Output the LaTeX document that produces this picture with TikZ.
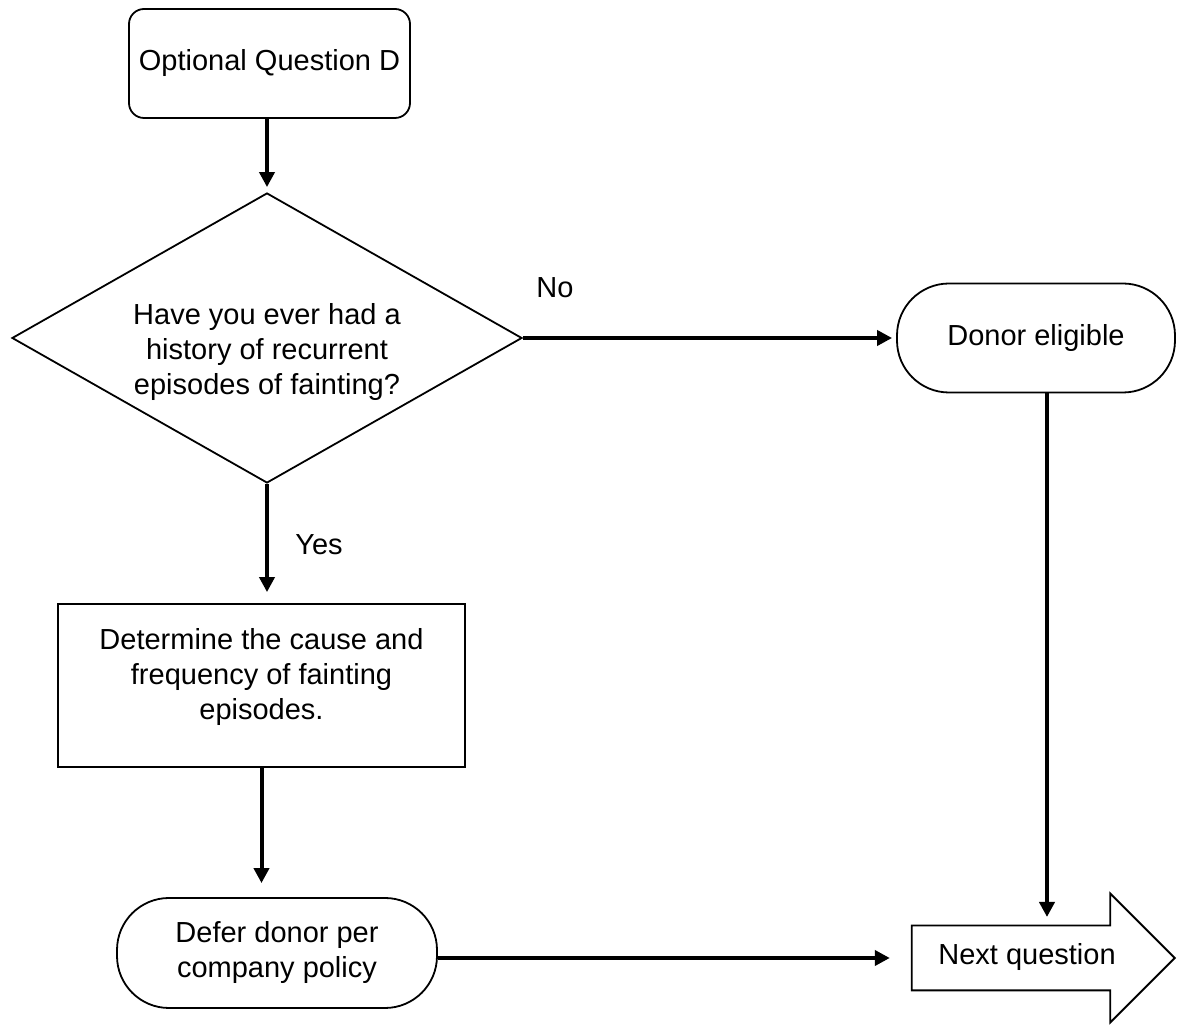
\documentclass[tikz,border=0pt]{standalone}
\usepackage{fontspec}
\setmainfont{Liberation Sans}
\usetikzlibrary{shapes.geometric, shapes.arrows, arrows.meta}
\newcommand{\flowfont}{\fontsize{14.5}{17.5}\selectfont}
\tikzset{
    rbox/.style={rectangle, rounded corners=7.5pt, draw=black, line width=0.9pt,
                 minimum width=140.5pt, minimum height=54.5pt, align=center,
                 font=\flowfont},
    qbox/.style={diamond, draw=black, line width=0.9pt, inner sep=0pt,
                 minimum width=255pt, minimum height=145pt},
    abox/.style={rectangle, draw=black, line width=0.9pt,
                 minimum width=203.5pt, minimum height=81.5pt},
    tbox/.style={rectangle, rounded corners=26pt, draw=black, line width=0.9pt,
                 minimum height=54.5pt, align=center, font=\flowfont},
    nbox/.style={single arrow, draw=black, line width=0.9pt,
                 single arrow head extend=16pt, single arrow tip angle=90,
                 single arrow head indent=0pt, minimum height=131.5pt,
                 text height=10.5pt, text depth=3.5pt, inner ysep=8.75pt,
                 font=\flowfont},
    txt/.style={align=center, font=\flowfont},
    arr/.style={-{Triangle[length=7.5pt, width=7.5pt]}, line width=2pt, draw=black}
}

\begin{document}
\begin{tikzpicture}[x=0.5pt, y=-0.5pt]
\useasboundingbox (0,0) rectangle (1185,1036);

\node[rbox]                       at (269.5,63.5)  (start) {Optional Question D};
\node[qbox]                       at (267,338)     (quest) {};
\node[txt]                        at (267,352)     (questtxt) {Have you ever had a\\history of recurrent\\episodes of fainting?};
\node[tbox, minimum width=139pt]  at (1036,338)    (donor) {Donor eligible};
\node[abox]                       at (261.5,685.5) (det)   {};
\node[txt]                        at (261.5,677.5) (dettxt) {Determine the cause and\\frequency of fainting\\episodes.};
\node[tbox, minimum width=160pt, minimum height=55pt]
                                  at (277,953)     (defer) {Defer donor per\\company policy};
\node[nbox, anchor=tip]           at (1176,958)    (next)  {Next question};
\coordinate (nqtop) at (1047,927);

% branch labels
\node[txt] at (555,288) (nolbl)  {No};
\node[txt] at (319,545) (yeslbl) {Yes};

\draw[arr, shorten >=2.5pt] (quest.north |- start.south) -- (quest.north);
\draw[arr, shorten >=2pt]   (quest.east) -- (quest.east -| donor.west);
\draw[arr, shorten >=5.5pt] (quest.south) -- (quest.south |- det.north);
\draw[arr, shorten >=7pt]   (det.south) -- (det.south |- defer.north);
\draw[arr, shorten >=10.5pt] (defer.east |- next.west) -- (next.west);
\draw[arr, shorten >=5pt]   (donor.south -| nqtop) -- (nqtop);
\end{tikzpicture}
\end{document}
